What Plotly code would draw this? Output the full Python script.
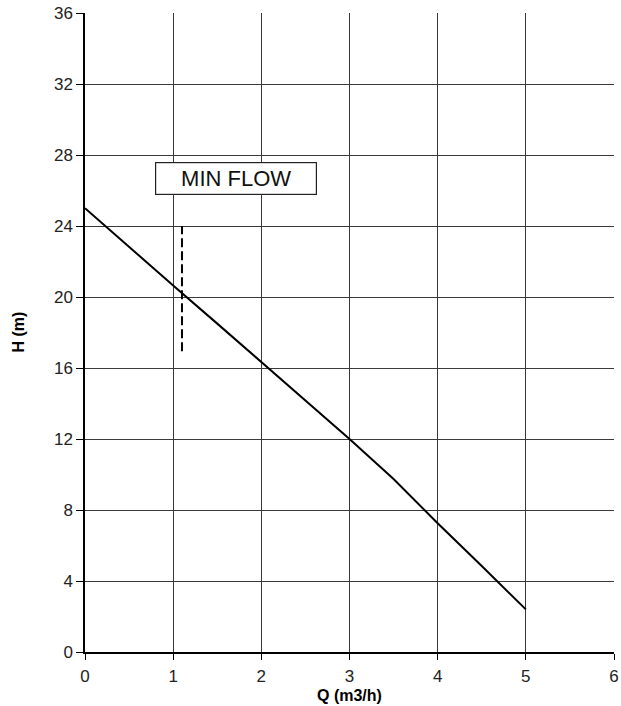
import plotly.graph_objects as go

# Pump curve data
q_vals = [0, 0.5, 1.0, 1.5, 2.0, 2.5, 3.0, 3.5, 4.0, 4.5, 5.0]
h_vals = [25.0, 22.8, 20.65, 18.5, 16.35, 14.2, 12.0, 9.75, 7.25, 4.85, 2.4]

# Minimum flow marker
min_flow_q = [1.1, 1.1]
min_flow_h = [16.95, 24.0]
min_flow_label = "MIN FLOW"
label_pos = (1.71, 26.7)

x_ticks = [0, 1, 2, 3, 4, 5, 6]
y_ticks = [0, 4, 8, 12, 16, 20, 24, 28, 32, 36]

font_family = "Liberation Sans, Arial, sans-serif"

fig = go.Figure()
fig.add_trace(go.Scatter(x=q_vals, y=h_vals, mode="lines",
                         line=dict(color="black", width=2), showlegend=False))
fig.add_trace(go.Scatter(x=min_flow_q, y=min_flow_h, mode="lines",
                         line=dict(color="black", width=2, dash="9px,4px"),
                         showlegend=False))

fig.add_annotation(x=label_pos[0], y=label_pos[1], text=min_flow_label,
                   showarrow=False, font=dict(family=font_family, size=22, color="#111"),
                   bordercolor="#222", borderwidth=1.2, bgcolor="white",
                   borderpad=3, width=154)

fig.add_annotation(x=3, y=0, xref="x", yref="y", text="<b>Q (m3/h)</b>",
                   showarrow=False, yshift=-43, font=dict(family=font_family, size=16, color="black"))
fig.add_annotation(x=0, y=18, xref="x", yref="y", text="<b>H (m)</b>", textangle=-90,
                   showarrow=False, xshift=-67, font=dict(family=font_family, size=16, color="black"))

fig.update_xaxes(range=[0, 6], tickvals=x_ticks, ticktext=[str(v) for v in x_ticks],
                 showgrid=True, gridcolor="#3a3a3a", gridwidth=1.3,
                 showline=True, linecolor="black", linewidth=1.5,
                 ticks="outside", ticklen=6, tickcolor="black", tickwidth=1.3,
                 tickfont=dict(family=font_family, size=17, color="#222"),
                 ticklabelstandoff=2,
                 zeroline=False, mirror=False, automargin=False,
                 ticklabeloverflow="allow")
fig.update_yaxes(range=[0, 36], tickvals=y_ticks, ticktext=[str(v) for v in y_ticks],
                 showgrid=True, gridcolor="#3a3a3a", gridwidth=1.3,
                 showline=True, linecolor="black", linewidth=1.5,
                 ticks="outside", ticklen=7, tickcolor="black", tickwidth=1.3,
                 tickfont=dict(family=font_family, size=17, color="#222"),
                 zeroline=False, automargin=False, ticklabeloverflow="allow")

fig.update_layout(width=621, height=706,
                  margin=dict(l=85, r=7, t=13, b=54),
                  plot_bgcolor="white", paper_bgcolor="white",
                  font=dict(family=font_family))

fig.write_html("out.html", config={"displayModeBar": False})

# remove default body margin so the figure fills the window exactly
with open("out.html", "r", encoding="utf-8") as f:
    html = f.read()
html = html.replace("<head>", "<head><style>html,body{margin:0;padding:0;overflow:hidden;}</style>", 1)
with open("out.html", "w", encoding="utf-8") as f:
    f.write(html)
